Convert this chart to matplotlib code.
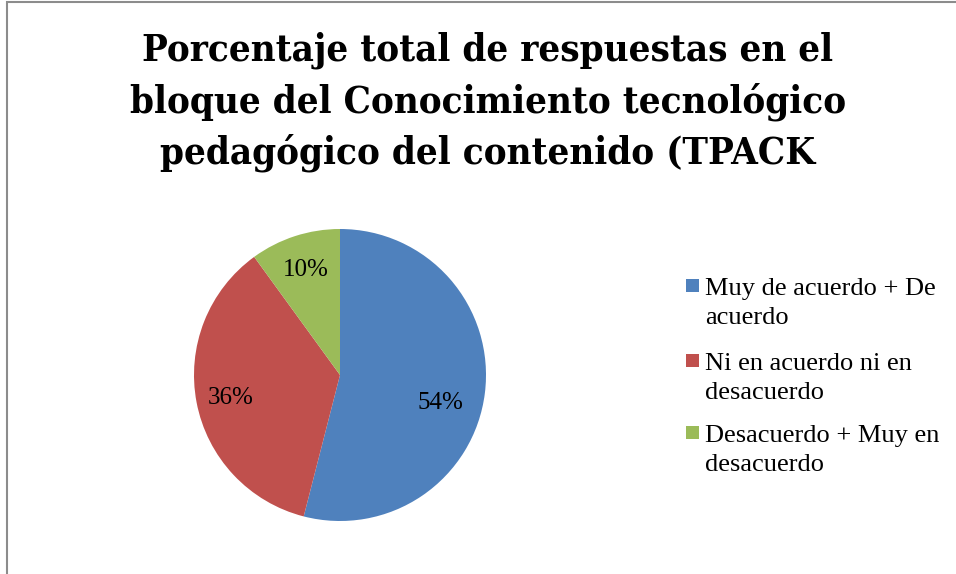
import matplotlib.pyplot as plt
from matplotlib.patches import Rectangle

# data
labels = ["Muy de acuerdo + De\nacuerdo",
          "Ni en acuerdo ni en\ndesacuerdo",
          "Desacuerdo + Muy en\ndesacuerdo"]
values = [54, 36, 10]
colors = ["#4F81BD", "#C0504D", "#9BBB59"]
title = "Porcentaje total de respuestas en el\nbloque del Conocimiento tecnológico\npedagógico del contenido (TPACK"

W, H = 956, 574
fig = plt.figure(figsize=(W / 100, H / 100), dpi=100)

# chart border (right/bottom run off the picture)
fig.patches.append(Rectangle((7 / W, -0.1), 1.2, 1.1 - 1.5 / H, transform=fig.transFigure,
                             fill=False, edgecolor="#8c8c8c", linewidth=1.5))

fig.text(488 / W, 1 - 102 / H, title, ha="center", va="center", fontsize=27.5,
         fontweight="bold", family="DejaVu Serif", fontstretch="condensed",
         linespacing=1.44)

# pie
cx, cy, r = 340, 375, 146
ax = fig.add_axes([(cx - r) / W, (H - cy - r) / H, 2 * r / W, 2 * r / H])
wedges, texts = ax.pie(values, colors=colors, startangle=90, counterclock=False,
                       wedgeprops=dict(linewidth=0))
ax.set_xlim(-1, 1)
ax.set_ylim(-1, 1)
ax.axis("off")

# percentage labels
label_pos = [(440, 403), (231, 398), (306, 270)]
for v, (px, py) in zip(values, label_pos):
    fig.text(px / W, 1 - py / H, f"{v}%", ha="center", va="center",
             fontsize=18, family="Liberation Serif")

# legend (first-line baselines)
leg_base = [295, 370, 442]
for lab, c, y in zip(labels, colors, leg_base):
    fig.patches.append(Rectangle((686 / W, 1 - (y - 3.5) / H), 13 / W, 13 / H,
                                 transform=fig.transFigure, facecolor=c, edgecolor="none"))
    fig.text(705 / W, 1 - (y + 29) / H, lab, ha="left", va="baseline", fontsize=19,
             family="Liberation Serif", linespacing=1.42)

fig.savefig("out.png", dpi=100)
